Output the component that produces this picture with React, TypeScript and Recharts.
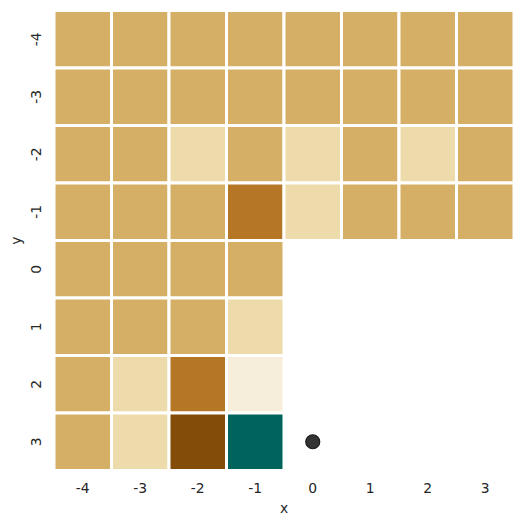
import React from 'react';
import { ScatterChart, XAxis, YAxis, ReferenceArea, Scatter } from 'recharts';

const xCategories = [-4, -3, -2, -1, 0, 1, 2, 3];
const yCategories = [-4, -3, -2, -1, 0, 1, 2, 3];

// cell values (normalized colormap positions), null = empty cell
const T = 0.271, L = 0.365, V = 0.445, B = 0.18, D = 0.085, G = 0.905;
const rowYm4 = [T, T, T, T, T, T, T, T];
const rowYm3 = [T, T, T, T, T, T, T, T];
const rowYm2 = [T, T, L, T, L, T, L, T];
const rowYm1 = [T, T, T, B, L, T, T, T];
const rowY0 = [T, T, T, T, null, null, null, null];
const rowY1 = [T, T, T, L, null, null, null, null];
const rowY2 = [T, L, B, V, null, null, null, null];
const rowY3 = [T, L, D, G, null, null, null, null];
const rows = [rowYm4, rowYm3, rowYm2, rowYm1, rowY0, rowY1, rowY2, rowY3];

const markerPoints = [{ x: 0, y: 3 }];

const brbg = ['#543005', '#8c510a', '#bf812d', '#dfc27d', '#f6e8c3', '#f5f5f5', '#c7eae5', '#80cdc1', '#35978f', '#01665e', '#003c30'];

function hexToRgb(h: string) {
  return [parseInt(h.slice(1, 3), 16), parseInt(h.slice(3, 5), 16), parseInt(h.slice(5, 7), 16)];
}
function colorFor(v: number) {
  const p = v * (brbg.length - 1);
  const i = Math.min(Math.floor(p), brbg.length - 2);
  const f = p - i;
  const a = hexToRgb(brbg[i]);
  const b = hexToRgb(brbg[i + 1]);
  const c = a.map((ai, k) => Math.round(ai + (b[k] - ai) * f));
  return `rgb(${c[0]},${c[1]},${c[2]})`;
}

const cells: { x: number; y: number; v: number }[] = [];
rows.forEach((row, ri) => {
  row.forEach((v, ci) => {
    if (v !== null) cells.push({ x: xCategories[ci], y: yCategories[ri], v: v as number });
  });
});

const FONT = 'DejaVu Sans, sans-serif';
const TEXT = '#262626';

const XTick = (props: any) => {
  const { x, y, payload } = props;
  return (
    <text x={x} y={y + 17.5} textAnchor="middle" dominantBaseline="central" fontFamily={FONT} fontSize={13.9} fill={TEXT}>
      {payload.value}
    </text>
  );
};
const YTick = (props: any) => {
  const { x, y, payload } = props;
  const tx = x - 18;
  return (
    <text x={tx} y={y} textAnchor="middle" dominantBaseline="central" fontFamily={FONT} fontSize={13.9} fill={TEXT} transform={`rotate(-90, ${tx}, ${y})`}>
      {payload.value}
    </text>
  );
};

const XLabel = (props: any) => {
  const vb = props.viewBox;
  return (
    <text x={vb.x + vb.width / 2} y={vb.y + 37} textAnchor="middle" dominantBaseline="central" fontFamily={FONT} fontSize={13.9} fill={TEXT}>
      x
    </text>
  );
};
const YLabel = (props: any) => {
  const vb = props.viewBox;
  const tx = vb.x + 8;
  const ty = vb.y + vb.height / 2;
  return (
    <text x={tx} y={ty} textAnchor="middle" dominantBaseline="central" fontFamily={FONT} fontSize={13.9} fill={TEXT} transform={`rotate(-90, ${tx}, ${ty})`}>
      y
    </text>
  );
};

const Dot = (props: any) => {
  const { cx, cy } = props;
  return <circle cx={cx} cy={cy} r={7} fill="#333333" stroke="#1a1a1a" strokeWidth={1.2} />;
};

export default function App() {
  return (
    <ScatterChart width={517} height={517} margin={{ top: 2.5, right: 11, left: 0, bottom: 0 }}>
      <XAxis
        type="number"
        dataKey="x"
        domain={[-4.5, 3.5]}
        ticks={xCategories}
        interval={0}
        axisLine={false}
        tickLine={false}
        tickSize={0}
        tickMargin={0}
        height={54.5}
        tick={<XTick />}
        label={<XLabel />}
      />
      <YAxis
        type="number"
        dataKey="y"
        domain={[-4.5, 3.5]}
        reversed
        ticks={yCategories}
        interval={0}
        axisLine={false}
        tickLine={false}
        tickSize={0}
        tickMargin={0}
        width={46}
        tick={<YTick />}
        label={<YLabel />}
      />
      {cells.map((c, i) => (
        <ReferenceArea
          key={i}
          x1={c.x - 0.5}
          x2={c.x + 0.5}
          y1={c.y - 0.5}
          y2={c.y + 0.5}
          fill={colorFor(c.v)}
          fillOpacity={1}
          stroke="#ffffff"
          strokeWidth={3}
          strokeOpacity={1}
        />
      ))}
      <Scatter data={markerPoints} shape={<Dot />} isAnimationActive={false} />
    </ScatterChart>
  );
}
